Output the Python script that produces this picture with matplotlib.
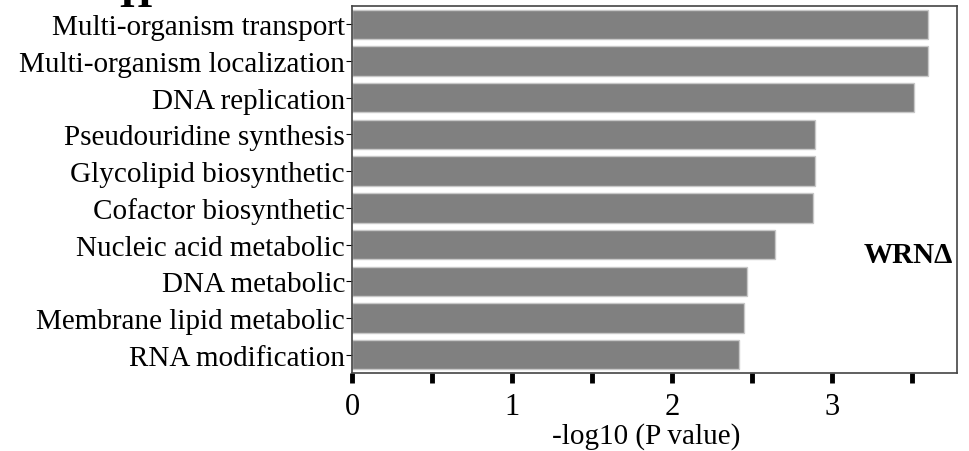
import matplotlib
matplotlib.use("Agg")
import matplotlib.pyplot as plt

categories = [
    "Multi-organism transport",
    "Multi-organism localization",
    "DNA replication",
    "Pseudouridine synthesis",
    "Glycolipid biosynthetic",
    "Cofactor biosynthetic",
    "Nucleic acid metabolic",
    "DNA metabolic",
    "Membrane lipid metabolic",
    "RNA modification",
]
values = [3.60, 3.60, 3.51, 2.89, 2.89, 2.88, 2.645, 2.47, 2.45, 2.415]
xticks_major = [0, 1, 2, 3]
xticks_minor = [0.5, 1.5, 2.5, 3.5]

plt.rcParams['font.family'] = ['Liberation Serif', 'DejaVu Serif']
FS = 21

fig = plt.figure(figsize=(9.7, 4.52), dpi=100)
ax = fig.add_axes([352/970, 1 - 374/452, (957-352)/970, (374-7)/452])

ypos = list(range(len(categories)))
ax.barh(ypos, values, height=0.8, color='#808080', edgecolor='#c8c8c8', linewidth=1.0)
ax.set_ylim(len(categories) - 0.5, -0.5)
ax.set_xlim(0, 3.78)
ax.set_yticks(ypos)
ax.set_yticklabels(categories, fontsize=FS)
ax.set_xticks(xticks_major)
ax.set_xticklabels([str(t) for t in xticks_major], fontsize=22)
ax.set_xticks(xticks_minor, minor=True)
ax.tick_params(axis='x', which='both', direction='out', length=7, width=3.5, color='black', pad=7)
ax.tick_params(axis='y', direction='out', length=4, width=0.8, pad=1)
ax.set_xlabel('-log10 (P value)', fontsize=FS)
ax.xaxis.set_label_coords(0.487, -0.135)
for s in ax.spines.values():
    s.set_linewidth(1.2)
    s.set_color('#444444')

ax.text(0.993, 0.324, 'WRNΔ', transform=ax.transAxes, ha='right', va='center',
        fontsize=FS, fontweight='bold')

fig.text(136/970, 1 - 7/452, 'H', ha='center', va='baseline', fontsize=30, fontweight='bold')

fig.savefig('out.png', dpi=100)
